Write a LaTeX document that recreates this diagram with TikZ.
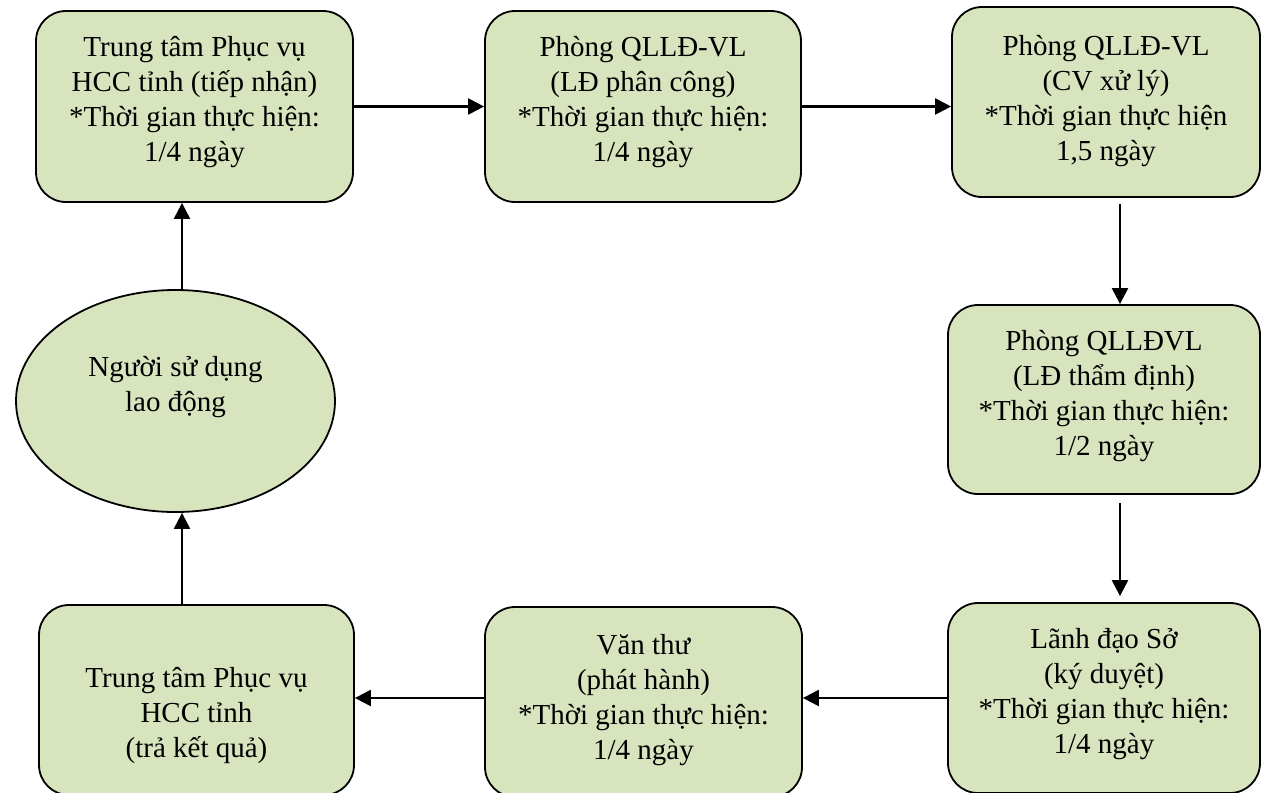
\documentclass[tikz,border=0pt]{standalone}
\usepackage{fontspec}
\setmainfont{Liberation Serif}
\usetikzlibrary{shapes.geometric,arrows.meta}
\definecolor{boxgreen}{HTML}{D7E4BD}
\tikzset{
  stepbox/.style={draw=black, line width=1.8pt, fill=boxgreen, rounded corners=30pt,
    align=center, inner sep=0pt, font=\fontsize{29}{35}\selectfont},
  userell/.style={draw=black, line width=1.8pt, fill=boxgreen, ellipse, inner sep=0pt,
    align=center, font=\fontsize{29}{35}\selectfont,
    minimum width=319pt, minimum height=222pt},
  flow/.style={line width=2.2pt, -{Triangle[length=16pt,width=16pt]}}
}
\begin{document}
\begin{tikzpicture}[x=1pt,y=-1pt]
\useasboundingbox (0,0) rectangle (1262,793);
\clip (0,0) rectangle (1262,793);

% top row
\node[stepbox, minimum width=317pt, minimum height=191pt] (b1) at (194.5,106.5)
  {Trung tâm Phục vụ\\HCC tỉnh (tiếp nhận)\\*Thời gian thực hiện:\\1/4 ngày\\[-20pt]};
\node[stepbox, minimum width=316pt, minimum height=191pt] (b2) at (643,106.5)
  {Phòng QLLĐ-VL\\(LĐ phân công)\\*Thời gian thực hiện:\\1/4 ngày\\[-20pt]};
\node[stepbox, minimum width=308pt, minimum height=190pt] (b3) at (1106,102)
  {Phòng QLLĐ-VL\\(CV xử lý)\\*Thời gian thực hiện\\1,5 ngày\\[-26pt]};

% right column
\node[stepbox, minimum width=312pt, minimum height=189pt] (b4) at (1104,399.5)
  {Phòng QLLĐVL\\(LĐ thẩm định)\\*Thời gian thực hiện:\\1/2 ngày\\[-21pt]};
\node[stepbox, minimum width=312pt, minimum height=190pt] (b5) at (1104,698)
  {Lãnh đạo Sở\\(ký duyệt)\\*Thời gian thực hiện:\\1/4 ngày\\[-21pt]};

% bottom row
\node[stepbox, minimum width=317pt, minimum height=190pt] (b6) at (643.5,702)
  {Văn thư\\(phát hành)\\*Thời gian thực hiện:\\1/4 ngày\\[-24pt]};
\node[stepbox, minimum width=315pt, minimum height=190pt] (b7) at (196.5,700)
  {Trung tâm Phục vụ\\HCC tỉnh\\(trả kết quả)\\[-59pt]};

% applicant
\node[userell] (u) at (175.5,401) {Người sử dụng\\lao động\\[-1pt]};

% guide lines for the connectors
\coordinate (xr) at (1120,0);
\coordinate (xl) at (182,0);
\coordinate (yt) at (0,106.5);
\coordinate (yb) at (0,698);

% connectors
\draw[flow] (b1.east |- yt) -- (b2.west |- yt);
\draw[flow] (b2.east |- yt) -- (b3.west |- yt);
\draw[flow] ([yshift=-6pt]b3.south -| xr) -- (b4.north -| xr);
\draw[flow] ([yshift=-8pt]b4.south -| xr) -- ([yshift=6pt]b5.north -| xr);
\draw[flow] (b5.west |- yb) -- (b6.east |- yb);
\draw[flow] (b6.west |- yb) -- (b7.east |- yb);
\draw[flow] (b7.north -| xl) -- (u.south -| xl);
\draw[flow] (u.north -| xl) -- (b1.south -| xl);
\end{tikzpicture}
\end{document}
